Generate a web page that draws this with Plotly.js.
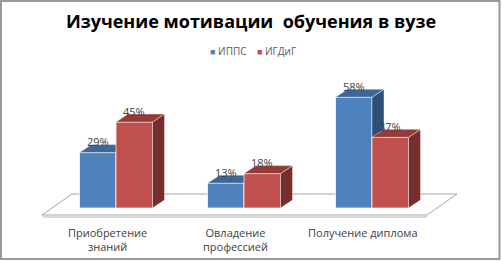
<!DOCTYPE html>
<html><head><meta charset="utf-8">
<script src="https://cdn.plot.ly/plotly-3.0.1.min.js"></script>
<style>html,body{margin:0;padding:0;background:#fff}#chart{width:502px;height:262px}</style>
</head><body><div id="chart"></div>
<script>
// ---- data ----
const categories = ['Приобретение<br>знаний', 'Овладение<br>профессией', 'Получение диплома'];
const seriesNames = ['ИППС', 'ИГДиГ'];
const ippsValues = [29, 13, 58];
const igdigValues = [45, 18, 37];
const titleText = 'Изучение мотивации  обучения в вузе';

// ---- styling / geometry ----
const W = 502, H = 262;
const pxPerX = 128, x0px = 116;         // category index -> pixel
const y0px = 208, pxPerY = 1.91;        // value -> pixel
const xr = [-x0px / pxPerX, (W - x0px) / pxPerX];
const yr = [(y0px - H) / pxPerY, y0px / pxPerY];
const barW = 36.5 / pxPerX;
const dX = 12 / pxPerX, dY = 8 / pxPerY;  // 3D depth
const FONT = 'Open Sans, Noto Sans, sans-serif';

const palette = [
  {front: '#4F81BD', top: '#3D6798', side: '#2D4F78'},
  {front: '#C0504D', top: '#923B39', side: '#772D2B'}
];
const allValues = [ippsValues, igdigValues];
const offsets = [-barW, 0];
const idx = categories.map((c, i) => i);

function faces(vals, off) {
  const top = {x: [], y: []}, side = {x: [], y: []};
  vals.forEach((v, i) => {
    const l = i + off, r = l + barW;
    top.x.push(l, l + dX, r + dX, r, l, null);
    top.y.push(v, v + dY, v + dY, v, v, null);
    side.x.push(r, r, r + dX, r + dX, r, null);
    side.y.push(0, v, v + dY, dY, 0, null);
  });
  return {top, side};
}

const traces = [];
allValues.forEach((vals, s) => {
  const xa = s === 0 ? 'x' : 'x2', ya = s === 0 ? 'y' : 'y2';
  const f = faces(vals, offsets[s]);
  traces.push({
    type: 'bar', x: idx, y: vals, name: seriesNames[s], xaxis: xa, yaxis: ya,
    width: barW, offset: offsets[s], showlegend: false,
    marker: {color: palette[s].front, line: {color: 'rgba(255,255,255,0.7)', width: 1}},
    hoverinfo: 'y'
  });
  traces.push({
    type: 'scatter', mode: 'lines', x: f.side.x, y: f.side.y, xaxis: xa, yaxis: ya,
    fill: 'toself', fillcolor: palette[s].side, line: {color: 'rgba(255,255,255,0.5)', width: 0.8},
    showlegend: false, hoverinfo: 'skip'
  });
  traces.push({
    type: 'scatter', mode: 'lines', x: f.top.x, y: f.top.y, xaxis: xa, yaxis: ya,
    fill: 'toself', fillcolor: palette[s].top, line: {color: 'rgba(255,255,255,0.5)', width: 0.8},
    showlegend: false, hoverinfo: 'skip'
  });
});

// value labels
const annotations = [];
allValues.forEach((vals, s) => {
  vals.forEach((v, i) => {
    annotations.push({
      x: i + offsets[s] + barW / 2, y: v, xref: 'x', yref: 'y', text: v + '%',
      showarrow: false, yshift: 11, yanchor: 'middle',
      font: {family: FONT, size: 11, color: '#404040'}
    });
  });
});
// category labels
categories.forEach((c, i) => {
  annotations.push({
    x: i, y: 1 - 223 / H, xref: 'x', yref: 'paper', text: c, showarrow: false,
    xshift: -9, yanchor: 'top', align: 'center',
    font: {family: FONT, size: 11, color: '#404040'}
  });
});
// compact legend (Excel style small squares)
const legendText = seriesNames.map((n, s) =>
  `<span style="color:${palette[s].front};font-size:9px">■</span> ${n}`).join('    ');
annotations.push({
  x: 253 / W, y: 1 - 51 / H, xref: 'paper', yref: 'paper', text: legendText, showarrow: false,
  xanchor: 'center', yanchor: 'middle',
  font: {family: FONT, size: 10, color: '#595959'}
});

// floor (pixel coords converted to data)
const toX = p => (p - x0px) / pxPerX, toY = p => (y0px - p) / pxPerY;
const floorPath = `M ${toX(42)} ${toY(215)} L ${toX(72)} ${toY(194)} L ${toX(457)} ${toY(194)} L ${toX(427)} ${toY(215)} Z`;

const axisBase = {visible: false, showgrid: false, zeroline: false, fixedrange: true};
const layout = {
  width: W, height: H,
  margin: {l: 0, r: 0, t: 0, b: 0, pad: 0},
  paper_bgcolor: '#ffffff', plot_bgcolor: 'rgba(0,0,0,0)',
  title: {
    text: titleText, x: 0.5, xanchor: 'center', y: 1 - 22 / H, yanchor: 'middle', yref: 'container',
    font: {family: FONT, size: 18, color: '#000000', weight: 'bold'}
  },
  showlegend: false,
  xaxis: Object.assign({range: xr}, axisBase),
  yaxis: Object.assign({range: yr}, axisBase),
  xaxis2: Object.assign({range: xr, overlaying: 'x'}, axisBase),
  yaxis2: Object.assign({range: yr, overlaying: 'y'}, axisBase),
  barmode: 'overlay',
  shapes: [
    {type: 'path', path: floorPath, xref: 'x', yref: 'y', layer: 'below',
     fillcolor: '#ffffff', line: {color: '#a6a6a6', width: 1}},
    {type: 'line', xref: 'x', yref: 'y', layer: 'below', x0: toX(43), x1: toX(427), y0: toY(217), y1: toY(217),
     line: {color: '#d9d9d9', width: 2}},
    {type: 'rect', xref: 'paper', yref: 'paper', x0: 1 / W, x1: 499.5 / W, y0: 1 - 259 / H, y1: 1 - 1 / H,
     line: {color: '#999999', width: 2}, fillcolor: 'rgba(0,0,0,0)'}
  ],
  annotations: annotations
};

Plotly.newPlot('chart', traces, layout, {displayModeBar: false, staticPlot: true});
</script>
</body></html>
